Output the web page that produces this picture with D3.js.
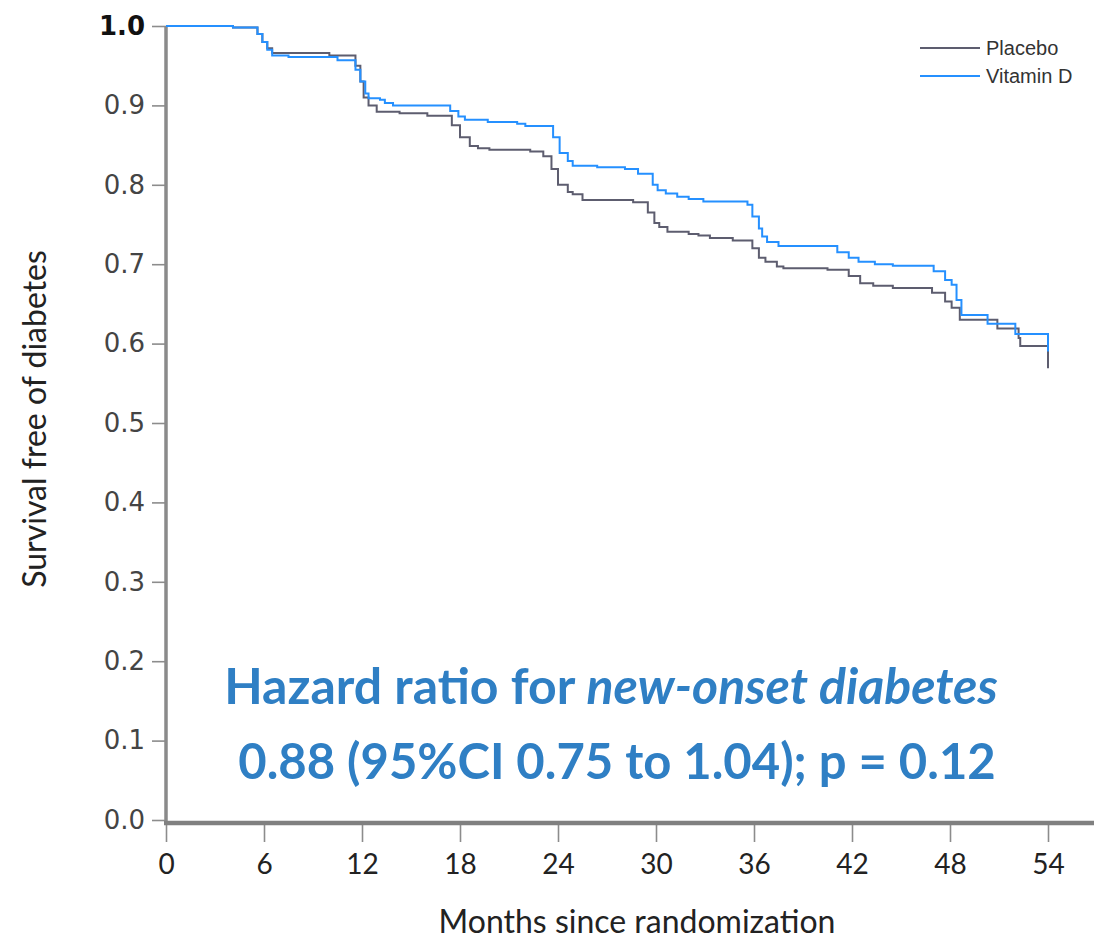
<!DOCTYPE html>
<html>
<head>
<meta charset="utf-8">
<script src="https://cdn.jsdelivr.net/npm/d3@7"></script>
<style>
  body { margin: 0; background: #fff; }
  svg { display: block; }
</style>
</head>
<body>
<svg id="chart" width="1094" height="943"></svg>
<script>
// Kaplan-Meier step points: [month, survival after step]
var placebo = [
  [0, 1.0], [4.1, 0.998], [5.6, 0.99], [5.9, 0.98], [6.2, 0.972], [6.5, 0.966],
  [10.0, 0.963], [11.6, 0.95], [11.9, 0.93], [12.1, 0.91], [12.4, 0.90], [12.9, 0.892],
  [14.3, 0.890], [16.0, 0.887], [17.5, 0.875], [18.0, 0.86], [18.6, 0.849],
  [19.1, 0.846], [19.8, 0.844], [22.3, 0.842], [23.1, 0.836], [23.6, 0.82],
  [24.0, 0.80], [24.6, 0.791], [24.9, 0.788], [25.5, 0.781], [28.6, 0.778],
  [29.5, 0.765], [29.9, 0.752], [30.2, 0.747], [30.7, 0.741], [32.0, 0.738],
  [32.6, 0.736], [33.3, 0.733], [34.7, 0.730], [35.9, 0.72], [36.3, 0.708],
  [36.7, 0.703], [37.4, 0.697], [37.8, 0.695], [40.5, 0.693], [41.8, 0.685],
  [42.5, 0.676], [43.3, 0.673], [44.5, 0.670], [46.9, 0.664], [47.7, 0.653],
  [48.1, 0.645], [48.6, 0.630], [50.9, 0.619], [52.2, 0.607], [52.3, 0.597],
  [54.0, 0.597], [54.0, 0.569]
];
var vitaminD = [
  [0, 1.0], [4.1, 0.998], [5.6, 0.99], [5.9, 0.98], [6.2, 0.97], [6.5, 0.963],
  [7.5, 0.961], [10.5, 0.957], [11.6, 0.945], [11.9, 0.93], [12.2, 0.915], [12.4, 0.909],
  [13.1, 0.907], [13.4, 0.903], [13.9, 0.900], [17.4, 0.893], [17.9, 0.886],
  [18.3, 0.882], [19.7, 0.879], [21.5, 0.877], [22.0, 0.874], [23.7, 0.86],
  [24.1, 0.84], [24.6, 0.83], [24.9, 0.824], [26.4, 0.822], [28.1, 0.820],
  [28.9, 0.814], [29.8, 0.80], [30.1, 0.793], [30.6, 0.789], [31.3, 0.785],
  [32.0, 0.782], [32.9, 0.779], [35.6, 0.775], [35.9, 0.76], [36.3, 0.745],
  [36.5, 0.735], [36.8, 0.728], [37.5, 0.723], [41.1, 0.715], [41.8, 0.708],
  [42.4, 0.703], [43.4, 0.700], [44.5, 0.698], [47.0, 0.691], [47.7, 0.68],
  [48.1, 0.674], [48.4, 0.655], [48.7, 0.636], [50.3, 0.625], [52.0, 0.612],
  [54.0, 0.612], [54.0, 0.590]
];
var xTicks = [0, 6, 12, 18, 24, 30, 36, 42, 48, 54];
var yTicks = [0, 0.1, 0.2, 0.3, 0.4, 0.5, 0.6, 0.7, 0.8, 0.9, 1.0];
var series = [
  { name: "Placebo", values: placebo, color: "#5d5d6f" },
  { name: "Vitamin D", values: vitaminD, color: "#2590ff" }
];
var noteLine1 = ["Hazard ratio for ", "new-onset diabetes"];
var noteLine2 = "0.88 (95%CI 0.75 to 1.04); p = 0.12";

var svg = d3.select("#chart");
var x = d3.scaleLinear().domain([0, 54]).range([166, 1048]);
var y = d3.scaleLinear().domain([0, 1]).range([820, 26]);

// y axis
var yAxis = svg.append("g")
    .attr("transform", "translate(166,0)")
    .call(d3.axisLeft(y).tickValues(yTicks).tickSize(14).tickPadding(7)
        .tickFormat(d3.format(".1f")));
yAxis.select(".domain").remove();
yAxis.selectAll(".tick line").attr("stroke", "#8c8c8c").attr("stroke-width", 1.6);
yAxis.selectAll(".tick text")
    .attr("font-family", "DejaVu Sans")
    .attr("font-size", 26)
    .attr("fill", "#444")
    .filter(function(d) { return d === 1; })
    .attr("font-weight", "bold")
    .attr("fill", "#111");

// x axis
var xAxis = svg.append("g")
    .attr("transform", "translate(0,823)")
    .call(d3.axisBottom(x).tickValues(xTicks).tickSize(19).tickPadding(12));
xAxis.select(".domain").remove();
xAxis.selectAll(".tick line").attr("stroke", "#8c8c8c").attr("stroke-width", 1.6);
xAxis.selectAll(".tick text")
    .attr("font-family", "Lato")
    .attr("font-size", 28)
    .attr("fill", "#222");

// axis lines
svg.append("line")
    .attr("x1", 166).attr("x2", 166).attr("y1", y(1)).attr("y2", 824)
    .attr("stroke", "#8a8a8a").attr("stroke-width", 3.5);
svg.append("line")
    .attr("x1", 164).attr("x2", 1094).attr("y1", 823).attr("y2", 823)
    .attr("stroke", "#808080").attr("stroke-width", 4.5);

// curves
var line = d3.line()
    .x(function(d) { return x(d[0]); })
    .y(function(d) { return y(d[1]); })
    .curve(d3.curveStepAfter);
series.forEach(function(s) {
  svg.append("path")
      .attr("d", line(s.values))
      .attr("fill", "none")
      .attr("stroke", s.color)
      .attr("stroke-width", 2);
});

// legend
series.forEach(function(s, i) {
  var ly = 48 + i * 28;
  svg.append("line")
      .attr("x1", 920).attr("x2", 980).attr("y1", ly).attr("y2", ly)
      .attr("stroke", s.color).attr("stroke-width", 2);
  svg.append("text")
      .attr("x", 986).attr("y", ly + 7)
      .attr("font-family", "Liberation Sans")
      .attr("font-size", 20)
      .attr("fill", "#333")
      .text(s.name);
});

// axis titles
svg.append("text")
    .attr("transform", "translate(46,419) rotate(-90)")
    .attr("text-anchor", "middle")
    .attr("font-family", "Lato")
    .attr("font-size", 32)
    .attr("fill", "#222")
    .text("Survival free of diabetes");
svg.append("text")
    .attr("x", 637).attr("y", 933)
    .attr("text-anchor", "middle")
    .attr("font-family", "Lato")
    .attr("font-size", 32)
    .attr("fill", "#222")
    .text("Months since randomization");

// hazard ratio note
var note = svg.append("text")
    .attr("x", 611).attr("y", 704)
    .attr("text-anchor", "middle")
    .attr("font-family", "Lato")
    .attr("font-weight", "bold")
    .attr("font-size", 50)
    .attr("fill", "#2f7fc4");
note.append("tspan").text(noteLine1[0]);
note.append("tspan").attr("font-style", "italic").text(noteLine1[1]);
svg.append("text")
    .attr("x", 617).attr("y", 779)
    .attr("text-anchor", "middle")
    .attr("font-family", "Lato")
    .attr("font-weight", "bold")
    .attr("font-size", 49)
    .attr("fill", "#2f7fc4")
    .text(noteLine2);
</script>
</body>
</html>
